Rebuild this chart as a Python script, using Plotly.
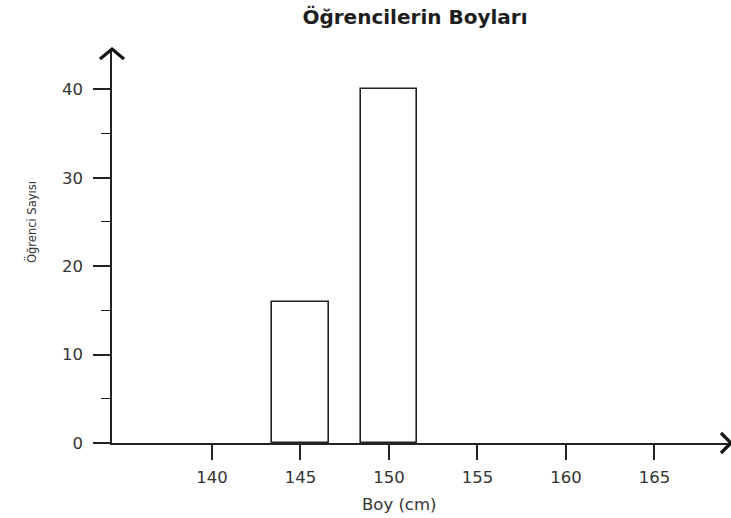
import plotly.graph_objects as go

# Data
heights = [145, 150]          # Boy (cm) class centers
counts = [16, 40]             # Öğrenci sayısı
x_ticks = [140, 145, 150, 155, 160, 165]
y_ticks = [0, 10, 20, 30, 40]

title_text = "Öğrencilerin Boyları"
x_title = "Boy (cm)"
y_title = "Öğrenci Sayısı"

W, H = 731, 518
ML, MR, MT, MB = 112, 1, 49, 75

FONT = "DejaVu Sans"
AXIS_COLOR = "#222222"
TEXT_COLOR = "#333333"

fig = go.Figure()
fig.add_trace(go.Bar(
    x=heights, y=counts, width=3.2,
    marker=dict(color="white", line=dict(color=AXIS_COLOR, width=1.6)),
    hoverinfo="x+y", showlegend=False,
))

fig.update_layout(
    width=W, height=H,
    margin=dict(l=ML, r=MR, t=MT, b=MB, pad=0),
    paper_bgcolor="white", plot_bgcolor="white",
    font=dict(family=FONT, color=TEXT_COLOR),
    title=dict(text="<b>" + title_text + "</b>", x=415 / W, xanchor="center",
               y=1 - 17 / H, yanchor="middle", yref="container",
               font=dict(size=20, color="#1e1e1e", family=FONT)),
    bargap=0,
)

fig.update_xaxes(
    range=[134.35, 169.27], showgrid=False, zeroline=False,
    showline=True, linecolor=AXIS_COLOR, linewidth=1.6,
    tickmode="array", tickvals=x_ticks, ticktext=[str(v) for v in x_ticks],
    ticks="outside", ticklen=15, tickwidth=1.5, tickcolor=AXIS_COLOR,
    tickfont=dict(size=16.5, color=TEXT_COLOR, family=FONT),
    ticklabelstandoff=3,
)
fig.update_yaxes(
    range=[0, 44.56], showgrid=False, zeroline=False,
    showline=True, linecolor=AXIS_COLOR, linewidth=1.6,
    tickmode="array", tickvals=y_ticks, ticktext=[str(v) for v in y_ticks],
    ticks="outside", ticklen=17, tickwidth=1.5, tickcolor=AXIS_COLOR,
    tickfont=dict(size=16.5, color=TEXT_COLOR, family=FONT),
    ticklabelstandoff=7,
    minor=dict(tickmode="linear", tick0=5, dtick=10, ticks="outside",
               ticklen=9, tickwidth=1.3, tickcolor=AXIS_COLOR, showgrid=False),
)

# axis titles
fig.add_annotation(text=x_title, xref="paper", yref="paper",
                   x=(399 - ML) / (W - ML - MR), y=-(504 - (H - MB)) / (H - MT - MB),
                   showarrow=False, xanchor="center", yanchor="middle",
                   font=dict(size=16.5, color=TEXT_COLOR, family=FONT))
fig.add_annotation(text=y_title, xref="paper", yref="paper",
                   x=(31 - ML) / (W - ML - MR), y=((H - MB) - 222) / (H - MT - MB),
                   showarrow=False, xanchor="center", yanchor="middle", textangle=-90,
                   font=dict(size=11.5, color=TEXT_COLOR, family=FONT))

# arrowheads (open chevrons) at axis ends
fig.add_shape(type="path", xref="paper", yref="paper",
              xsizemode="pixel", ysizemode="pixel", xanchor=0, yanchor=1,
              path="M -12,-10 L 0,0 L 12,-10",
              line=dict(color="#111111", width=3.2))
fig.add_shape(type="path", xref="paper", yref="paper",
              xsizemode="pixel", ysizemode="pixel", xanchor=1, yanchor=0,
              path="M -9,10 L 1,0 L -9,-10",
              line=dict(color="#111111", width=3.2))

fig.write_html(
    "out.html",
    config={"displayModeBar": False},
    post_script="document.body.style.margin='0';document.body.style.overflow='hidden';",
)
